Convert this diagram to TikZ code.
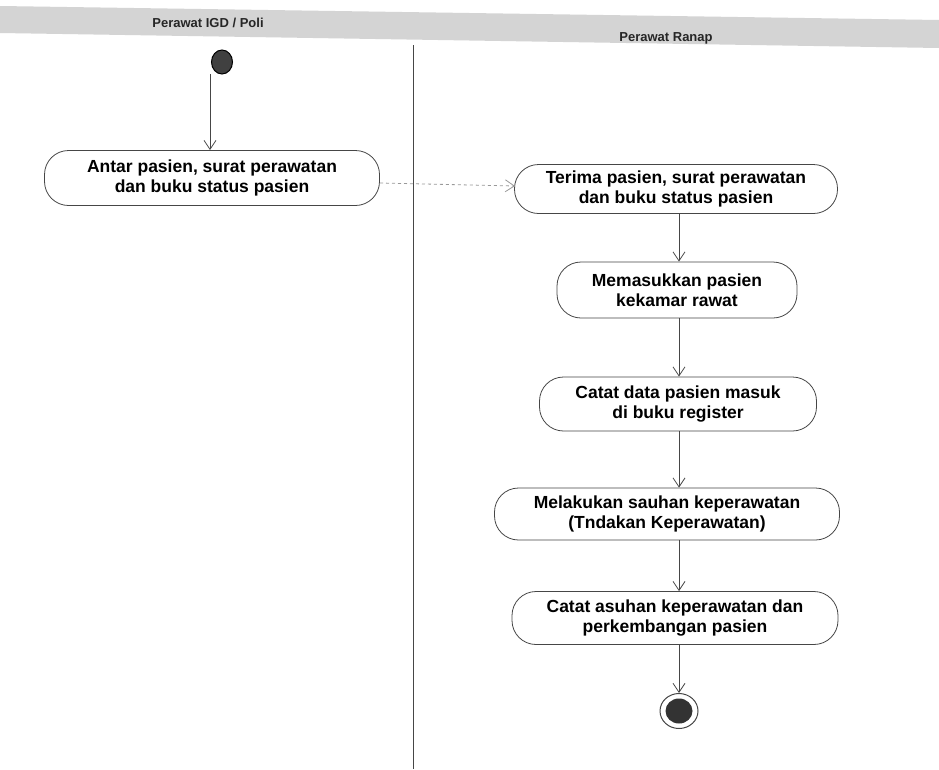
\documentclass[tikz,border=0pt]{standalone}
\usepackage{fontspec}
\setmainfont{Liberation Sans}
\usetikzlibrary{arrows.meta,shapes.geometric}
\definecolor{lineC}{RGB}{70,70,70}
\definecolor{bandC}{RGB}{212,212,212}
\tikzset{
  act/.style={draw=lineC, line width=0.8pt, rounded corners=24pt, align=center,
    font=\fontsize{17.5}{20.5}\selectfont\bfseries, inner sep=0pt},
  flow/.style={draw=lineC, line width=0.8pt, -{Straight Barb[length=9pt,width=12pt]}},
  lane/.style={font=\fontsize{13}{15}\selectfont\bfseries, text=black!85},
}
\begin{document}
\begin{tikzpicture}[x=1pt,y=-1pt]
\useasboundingbox (0,0) rectangle (939,769);
\fill[white] (0,0) rectangle (939,769);
% header band
\fill[bandC] (0,6) -- (939,20) -- (939,48) -- (0,33) -- cycle;
\node[lane] (laneA) at (208,23) {Perawat IGD / Poli};
\node[lane] (laneB) at (666,38) {Perawat Ranap};
% divider
\coordinate (divTop) at (413,45);
\coordinate (divBot) at (413,769);
\draw[lineC, line width=0.9pt] (divTop) -- (divBot);
% start
\node[ellipse, fill=black!75, draw=black, line width=1pt, minimum width=21pt, minimum height=24pt, inner sep=0pt] (start) at (222,62) {};
% activities
\node[act, minimum width=335pt, minimum height=55pt] (a1) at (212,178) {Antar pasien, surat perawatan\\dan buku status pasien};
\node[act, minimum width=323pt, minimum height=49pt] (a2) at (676,189) {Terima pasien, surat perawatan\\dan buku status pasien};
\node[act, minimum width=240pt, minimum height=56pt] (a3) at (677,290) {Memasukkan pasien\\kekamar rawat};
\node[act, minimum width=277pt, minimum height=54pt] (a4) at (678,404) {Catat data pasien masuk\\di buku register};
\node[act, minimum width=345pt, minimum height=52pt] (a5) at (667,514) {Melakukan sauhan keperawatan\\(Tndakan Keperawatan)};
\node[act, minimum width=326pt, minimum height=53pt] (a6) at (675,618) {Catat asuhan keperawatan dan\\perkembangan pasien};
% end
\node[ellipse, draw=lineC, line width=1pt, minimum width=38pt, minimum height=35pt, inner sep=0pt] (end) at (679,711) {};
\node[ellipse, fill=black!80, minimum width=27pt, minimum height=25pt, inner sep=0pt] (endIn) at (end.center) {};
% flows
\coordinate (s0) at (210,74);
\draw[flow] (s0) -- (a1.north -| s0);
\coordinate (d0) at (380,183);
\coordinate (d1) at (515,186);
\draw[flow, draw=lineC!55, dashed] (d0) -- (d1);
\draw[flow] (a2.south -| 679,0) -- (a3.north -| 679,0);
\draw[flow] (a3.south -| 679,0) -- (a4.north -| 679,0);
\draw[flow] (a4.south -| 679,0) -- (a5.north -| 679,0);
\draw[flow] (a5.south -| 679,0) -- (a6.north -| 679,0);
\draw[flow] (a6.south -| 679,0) -- (end.north);
\end{tikzpicture}
\end{document}
